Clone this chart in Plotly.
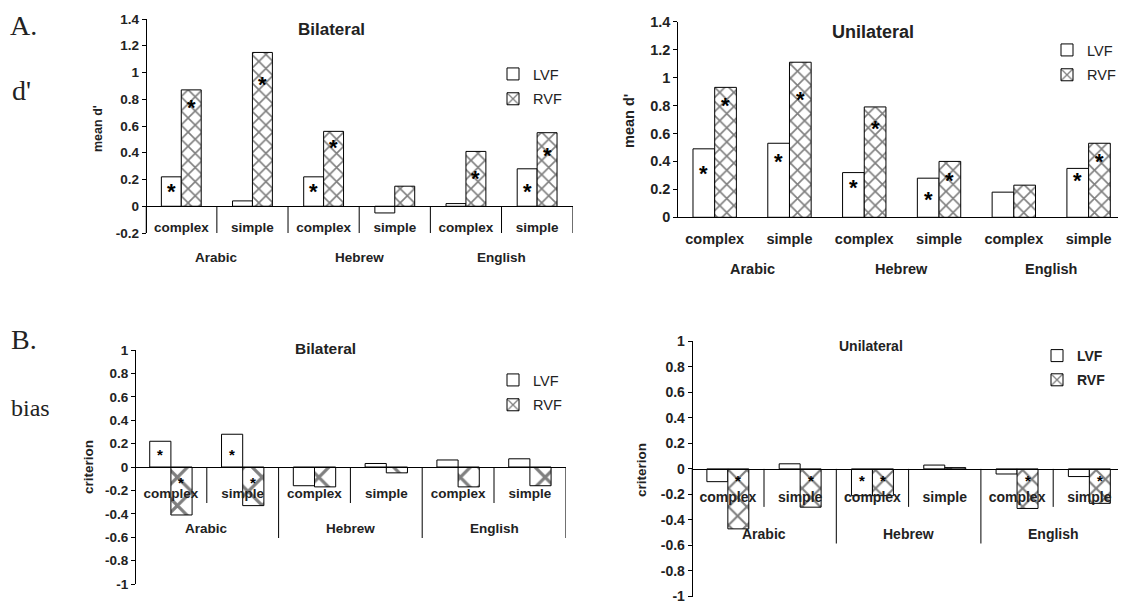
import plotly.graph_objects as go

# page is rendered with an 8px body margin -> figure drawn 8px right/down
OX, OY = 8, 8
FW, FH = 1118, 598
SANS = "Liberation Sans, Arial, sans-serif"
SERIF = "Liberation Serif, Times New Roman, serif"


def fx(px):
    return (px - OX) / FW


def fy(py):
    return 1 - (py - OY) / FH


# ---------------- data ----------------
outer_labels = ["Arabic", "Arabic", "Hebrew", "Hebrew", "English", "English"]
inner_labels = ["complex", "simple", "complex", "simple", "complex", "simple"]
languages = ["Arabic", "Hebrew", "English"]

# A. d' (mean d')
dprime_bi_lvf = [0.22, 0.04, 0.22, -0.05, 0.02, 0.28]
dprime_bi_rvf = [0.87, 1.15, 0.56, 0.15, 0.41, 0.55]
dprime_uni_lvf = [0.49, 0.53, 0.32, 0.28, 0.18, 0.35]
dprime_uni_rvf = [0.93, 1.11, 0.79, 0.40, 0.23, 0.53]

# B. bias (criterion)
crit_bi_lvf = [0.22, 0.28, -0.16, 0.03, 0.06, 0.07]
crit_bi_rvf = [-0.41, -0.33, -0.17, -0.05, -0.17, -0.16]
crit_uni_lvf = [-0.10, 0.04, -0.21, 0.03, -0.04, -0.06]
crit_uni_rvf = [-0.47, -0.30, -0.21, 0.01, -0.31, -0.27]

# significance asterisks (value at which the "*" is drawn, None = no marker)
star_bi_d_lvf = [0.15, None, 0.15, None, None, 0.15]
star_bi_d_rvf = [0.78, 0.95, 0.48, None, 0.25, 0.42]
star_uni_d_lvf = [0.35, 0.44, 0.25, 0.17, None, 0.30]
star_uni_d_rvf = [0.84, 0.885, 0.675, 0.30, None, 0.44]
star_bi_c_lvf = [0.14, 0.14, None, None, None, None]
star_bi_c_rvf = [-0.10, -0.10, None, None, None, None]
star_uni_c_lvf = [None, None, -0.065, None, None, None]
star_uni_c_rvf = [-0.06, -0.06, -0.065, None, -0.065, -0.065]

# tick labels
ticks_d_bi = [-0.2, 0, 0.2, 0.4, 0.6, 0.8, 1, 1.2, 1.4]
ticks_d_uni = [0, 0.2, 0.4, 0.6, 0.8, 1, 1.2, 1.4]
ticks_c = [-1, -0.8, -0.6, -0.4, -0.2, 0, 0.2, 0.4, 0.6, 0.8, 1]
tick_text_d_bi = ["-0.2", "0", "0.2", "0.4", "0.6", "0.8", "1", "1.2", "1.4"]
tick_text_d_uni = ["0", "0.2", "0.4", "0.6", "0.8", "1", "1.2", "1.4"]
tick_text_c = ["-1", "-0.8", "-0.6", "-0.4", "-0.2", "0", "0.2", "0.4", "0.6", "0.8", "1"]

# unique category keys (outer + inner); the axis shows the inner label
cat_keys = [o + " " + i for o, i in zip(outer_labels, inner_labels)]

# ---------------- panel layout (reference pixels) ----------------
panels = [
    dict(s="", lvf=dprime_bi_lvf, rvf=dprime_bi_rvf, slvf=star_bi_d_lvf, srvf=star_bi_d_rvf,
         title="Bilateral", tpos=(331, 30), tsize=17, ytitle="mean d'", ytpos=(98, 129), ytsize=12.5,
         tv=ticks_d_bi, tt=tick_text_d_bi, yr=[-0.2, 1.4], xpx=(145.7, 572.7), ypx=(19, 233),
         fs=13.5, w=0.28, pat=10, starsize=22, standoff=9, inlen=31, outlen=60, outoff=51,
         leg=(493, 58), legfont=14.5, legbold=False),
    dict(s="2", lvf=dprime_uni_lvf, rvf=dprime_uni_rvf, slvf=star_uni_d_lvf, srvf=star_uni_d_rvf,
         title="Unilateral", tpos=(872.5, 32), tsize=18, ytitle="mean d'", ytpos=(629, 121), ytsize=14.5,
         tv=ticks_d_uni, tt=tick_text_d_uni, yr=[0, 1.4], xpx=(677.3, 1128), ypx=(21.7, 217.3),
         fs=14.5, w=0.29, pat=10, starsize=22, standoff=8, inlen=32, outlen=62, outoff=52,
         leg=(1047, 34), legfont=14.5, legbold=False),
    dict(s="3", lvf=crit_bi_lvf, rvf=crit_bi_rvf, slvf=star_bi_c_lvf, srvf=star_bi_c_rvf,
         title="Bilateral", tpos=(325, 348), tsize=15.5, ytitle="criterion", ytpos=(88, 467), ytsize=13.5,
         tv=ticks_c, tt=tick_text_c, yr=[-1, 1], xpx=(135, 565.8), ypx=(350, 584),
         fs=13.5, w=0.295, pat=20, starsize=15, standoff=14, inlen=36, outlen=71, outoff=61,
         leg=(493, 364), legfont=14.5, legbold=False),
    dict(s="4", lvf=crit_uni_lvf, rvf=crit_uni_rvf, slvf=star_uni_c_lvf, srvf=star_uni_c_rvf,
         title="Unilateral", tpos=(871, 346), tsize=14, ytitle="criterion", ytpos=(641, 470), ytsize=13.5,
         tv=ticks_c, tt=tick_text_c, yr=[-1, 1], xpx=(691.7, 1125.5), ypx=(341.3, 596.5),
         fs=14, w=0.29, pat=13, starsize=15, standoff=15, inlen=38, outlen=74.6, outoff=64.6,
         leg=(1037, 340), legfont=14, legbold=True),
]

fig = go.Figure()
annotations = []
shapes = []
n = len(cat_keys)

for p in panels:
    s = p["s"]
    xa, ya = "x" + s, "y" + s
    legname = "legend" + s
    w = p["w"]
    fig.add_trace(go.Bar(
        x=cat_keys, y=p["lvf"], name="LVF", xaxis=xa, yaxis=ya, legend=legname,
        legendgroup="L" + s, offset=-w, width=w,
        marker=dict(color="white", line=dict(color="black", width=1)),
        hoverinfo="y"))
    fig.add_trace(go.Bar(
        x=cat_keys, y=p["rvf"], name="RVF", xaxis=xa, yaxis=ya, legend=legname,
        legendgroup="R" + s, offset=0, width=w,
        marker=dict(color="white", line=dict(color="black", width=1),
                    pattern=dict(shape="x", fgcolor="black", bgcolor="white",
                                 size=p["pat"], solidity=0.3)),
        hoverinfo="y"))

    # asterisks (centred on their bar)
    for side, stars in ((-1, p["slvf"]), (1, p["srvf"])):
        for k, v in enumerate(stars):
            if v is not None:
                annotations.append(dict(
                    x=k + side * w / 2, y=v, xref=xa, yref=ya, text="*", showarrow=False,
                    font=dict(family=SANS, size=p["starsize"], color="black", weight="bold"),
                    yshift=-0.25 * p["starsize"]))

    # category-level dividers: inner (complex|simple) and outer (language groups)
    for k in range(n + 1):
        b = k - 0.5
        is_outer = k == 0 or k == n or outer_labels[k] != outer_labels[k - 1]
        length = p["outlen"] if is_outer else p["inlen"]
        shapes.append(dict(type="line", xref=xa, yref=ya, x0=b, x1=b,
                           ysizemode="pixel", yanchor=0, y0=0, y1=-length,
                           line=dict(color="black", width=1)))

    # outer (language) labels centred under their group
    for lang in languages:
        idx = [k for k, o in enumerate(outer_labels) if o == lang]
        annotations.append(dict(
            x=sum(idx) / len(idx), y=0, xref=xa, yref=ya, text=lang, showarrow=False,
            yanchor="middle", yshift=-p["outoff"],
            font=dict(family=SANS, size=p["fs"], color="#222", weight="bold")))

    x0, x1 = p["xpx"]
    ytop, ybot = p["ypx"]
    ydom = [fy(ybot), fy(ytop)]
    ymin, ymax = p["yr"]
    xpos = ydom[0] + (0 - ymin) / (ymax - ymin) * (ydom[1] - ydom[0])

    fig.update_layout(**{
        "xaxis" + s: dict(
            domain=[fx(x0), min(fx(x1), 1.0)], type="category", anchor="free", position=xpos,
            range=[-0.5, n - 0.5], showline=True, linecolor="black", linewidth=1,
            tickvals=cat_keys, ticktext=inner_labels,
            ticks="", ticklabelstandoff=int(p["standoff"]), ticklabeloverflow="allow",
            tickfont=dict(family=SANS, size=p["fs"], color="#222", weight="bold"),
            showgrid=False, zeroline=False, fixedrange=True, automargin=False),
        "yaxis" + s: dict(
            domain=ydom, anchor="free", position=fx(x0), range=p["yr"],
            tickvals=p["tv"], ticktext=p["tt"], ticks="outside", ticklen=4,
            ticklabeloverflow="allow",
            tickcolor="black", showline=True, linecolor="black", linewidth=1,
            tickfont=dict(family=SANS, size=p["fs"], color="#222", weight="bold"),
            showgrid=False, zeroline=False, fixedrange=True, automargin=False),
        legname: dict(
            x=fx(p["leg"][0]), y=fy(p["leg"][1]), xanchor="left", yanchor="top",
            bgcolor="rgba(0,0,0,0)", borderwidth=0, tracegroupgap=3,
            font=dict(family=SANS, size=p["legfont"], color="#222",
                      weight="bold" if p["legbold"] else "normal")),
    })

    annotations.append(dict(x=fx(p["tpos"][0]), y=fy(p["tpos"][1]), xref="paper", yref="paper",
                            text=p["title"], showarrow=False, xanchor="center", yanchor="middle",
                            font=dict(family=SANS, size=p["tsize"], color="#222", weight="bold")))
    annotations.append(dict(x=fx(p["ytpos"][0]), y=fy(p["ytpos"][1]), xref="paper", yref="paper",
                            text=p["ytitle"], showarrow=False, textangle=-90,
                            xanchor="center", yanchor="middle",
                            font=dict(family=SANS, size=p["ytsize"], color="#222", weight="bold")))

# panel letters / row labels: (text, x centre, y, y-anchor, font size)
side_labels = [("A.", 23.5, 8, "top", 28), ("d'", 21, 90, "middle", 28),
               ("B.", 23.5, 339, "middle", 28), ("bias", 30.5, 408, "middle", 24)]
for txt, px_, py_, yanc, fsz in side_labels:
    annotations.append(dict(x=fx(px_), y=fy(py_), xref="paper", yref="paper", text=txt,
                            showarrow=False, xanchor="center", yanchor=yanc,
                            font=dict(family=SERIF, size=fsz, color="#222")))

fig.update_layout(
    width=FW, height=FH, margin=dict(l=0, r=0, t=0, b=0, autoexpand=False),
    paper_bgcolor="white", plot_bgcolor="rgba(0,0,0,0)",
    barmode="overlay", annotations=annotations, shapes=shapes, showlegend=True,
)

fig.write_html("out.html")
